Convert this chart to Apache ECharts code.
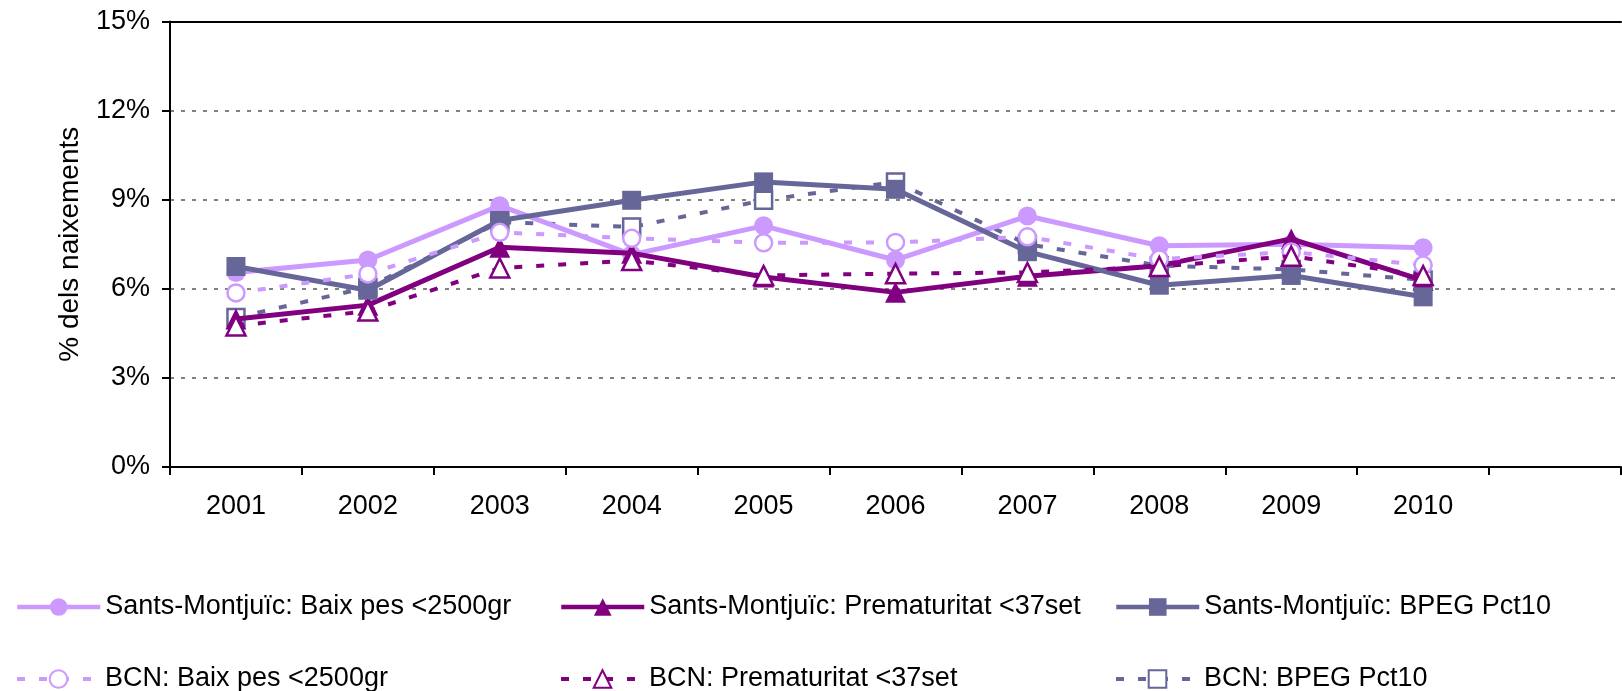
<!DOCTYPE html>
<html>
<head>
<meta charset="utf-8">
<script src="https://cdn.jsdelivr.net/npm/echarts@6/dist/echarts.min.js"></script>
<style>
html,body{margin:0;padding:0;background:#fff;}
#chart{width:1622px;height:691px;}
</style>
</head>
<body>
<div id="chart"></div>
<script>
const years = ['2001','2002','2003','2004','2005','2006','2007','2008','2009','2010',''];
const yTicks = [0, 3, 6, 9, 12, 15];

const names = [
  'Sants-Montjuïc: Baix pes <2500gr',
  'Sants-Montjuïc: Prematuritat <37set',
  'Sants-Montjuïc: BPEG Pct10',
  'BCN: Baix pes <2500gr',
  'BCN: Prematuritat <37set',
  'BCN: BPEG Pct10'
];

const smBaix    = [6.55, 6.97, 8.80, 7.15, 8.12, 6.97, 8.45, 7.45, 7.50, 7.38];
const smPremat  = [4.98, 5.45, 7.40, 7.20, 6.40, 5.88, 6.42, 6.78, 7.68, 6.28];
const smBpeg    = [6.75, 5.95, 8.30, 8.98, 9.60, 9.35, 7.25, 6.12, 6.45, 5.73];
const bcnBaix   = [5.86, 6.50, 7.90, 7.70, 7.55, 7.56, 7.75, 7.00, 7.24, 6.80];
const bcnPremat = [4.75, 5.25, 6.70, 6.95, 6.45, 6.51, 6.55, 6.75, 7.10, 6.45];
const bcnBpeg   = [5.03, 6.05, 8.25, 8.08, 8.98, 9.60, 7.50, 6.78, 6.65, 6.30];

const cLight = '#CC99FF', cPurple = '#800080', cSlate = '#666699';
const FONT = 'Liberation Sans, Arial, sans-serif';
const FS = 27;
const dash = [8, 14];

function mk(name, data, color, symbol, size, open, dashed, z) {
  return {
    name: name, type: 'line', data: data, z: z,
    symbol: symbol, symbolSize: size, showSymbol: true,
    lineStyle: { color: color, width: dashed ? 4 : 5, type: dashed ? dash : 'solid' },
    itemStyle: open ? { color: '#ffffff', borderColor: color, borderWidth: 2.5 }
                    : { color: color, borderColor: color, borderWidth: 0 },
    emphasis: { disabled: true },
    animation: false
  };
}

const series = [
  mk(names[5], bcnBpeg, cSlate, 'rect', 17, true, true, 2),
  mk(names[0], smBaix, cLight, 'circle', 19, false, false, 3),
  mk(names[1], smPremat, cPurple, 'triangle', 21, false, false, 4),
  mk(names[2], smBpeg, cSlate, 'rect', 19, false, false, 5),
  mk(names[3], bcnBaix, cLight, 'circle', 17, true, true, 6),
  mk(names[4], bcnPremat, cPurple, 'triangle', 19, true, true, 7)
];

const legendPos = [
  [15, 592], [559, 592], [1114, 592],
  [15, 664], [559, 664], [1114, 664]
];
const legendDashed = [false, false, false, true, true, true];
const legends = names.map((n, i) => ({
  data: [n], left: legendPos[i][0], top: legendPos[i][1],
  padding: 0, itemWidth: 83, itemHeight: 22, itemGap: 5,
  selectedMode: false,
  lineStyle: { width: legendDashed[i] ? 4 : 4.5 },
  textStyle: { fontFamily: FONT, fontSize: FS, color: '#000', lineHeight: 30 }
}));

const chart = echarts.init(document.getElementById('chart'), null, { renderer: 'canvas' });
chart.setOption({
  backgroundColor: '#fff',
  animation: false,
  grid: { left: 170, right: 1, top: 21.5, bottom: 224, containLabel: false },
  legend: legends,
  xAxis: [{
    type: 'category', data: years, boundaryGap: true,
    axisLine: { show: true, lineStyle: { color: '#000', width: 2 } },
    axisTick: { show: true, length: 8, interval: 0, lineStyle: { color: '#000', width: 2 } },
    axisLabel: { interval: 0, fontFamily: FONT, fontSize: FS, color: '#000', margin: 26 },
    splitLine: { show: false }
  }, {
    type: 'category', data: years, position: 'top', boundaryGap: true,
    axisLine: { show: true, lineStyle: { color: '#000', width: 2 } },
    axisTick: { show: false }, axisLabel: { show: false }, splitLine: { show: false }
  }],
  yAxis: {
    type: 'value', min: yTicks[0], max: yTicks[yTicks.length - 1], interval: 3,
    name: '% dels naixements', nameLocation: 'middle', nameRotate: 90, nameGap: 86,
    nameTextStyle: { fontFamily: FONT, fontSize: 28, color: '#000' },
    axisLine: { show: true, lineStyle: { color: '#000', width: 2 } },
    axisTick: { show: true, length: 8, lineStyle: { color: '#000', width: 2 } },
    axisLabel: { formatter: '{value}%', fontFamily: FONT, fontSize: FS, color: '#000', margin: 20 },
    splitLine: { show: true, lineStyle: { color: '#808080', width: 2, type: [4, 7] } }
  },
  series: series
});
</script>
</body>
</html>
